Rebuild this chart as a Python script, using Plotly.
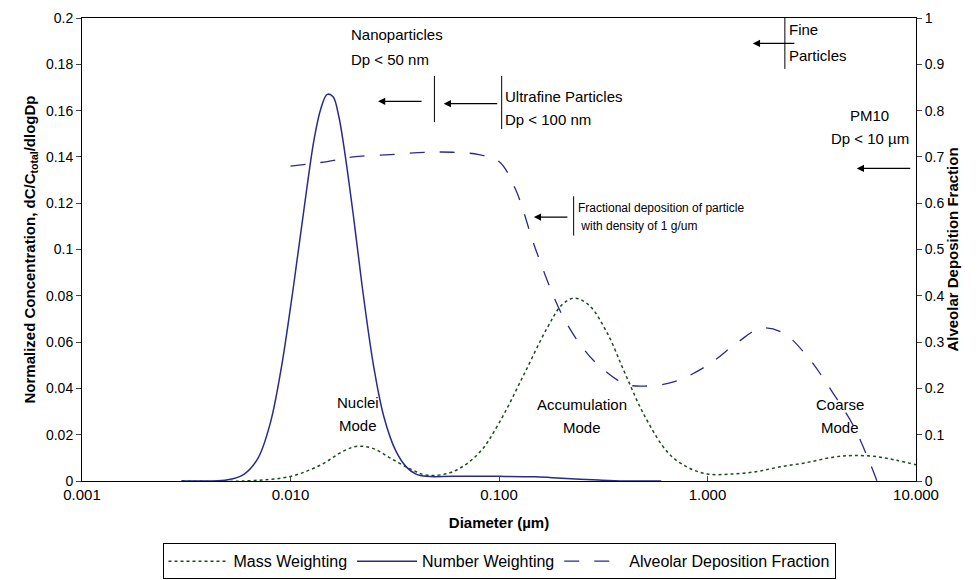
import plotly.graph_objects as go
import numpy as np

num_x = [0.003,0.004,0.005,0.006,0.007,0.008,0.009,0.010,0.011,0.012,0.013,0.014,0.015,0.016,0.017,0.018,0.020,0.022,0.025,0.028,0.032,0.036,0.040,0.045,0.06,0.1,0.15,0.2,0.3,0.4,0.6]
num_y = [0,0,0.0005,0.003,0.01,0.025,0.048,0.075,0.102,0.127,0.148,0.161,0.167,0.166,0.158,0.145,0.115,0.085,0.05,0.028,0.013,0.006,0.003,0.002,0.002,0.002,0.0018,0.0012,0.0004,0,0]
mass_x = [0.003,0.006,0.01,0.014,0.018,0.021,0.025,0.03,0.038,0.045,0.06,0.08,0.1,0.13,0.17,0.2,0.23,0.27,0.33,0.4,0.5,0.65,0.8,1.0,1.3,1.7,2.2,3,4,5,6.5,8,10]
mass_y = [0,0,0.002,0.007,0.013,0.015,0.014,0.01,0.005,0.0025,0.004,0.012,0.025,0.045,0.066,0.076,0.079,0.076,0.064,0.047,0.028,0.012,0.006,0.003,0.003,0.004,0.006,0.008,0.0103,0.011,0.0105,0.009,0.007]
dep_x = [0.01,0.015,0.02,0.03,0.045,0.06,0.08,0.1,0.12,0.15,0.2,0.25,0.3,0.4,0.5,0.7,1.0,1.4,1.8,2.3,3,4,5,6,6.5]
dep_y = [0.68,0.69,0.70,0.705,0.71,0.71,0.705,0.69,0.63,0.5,0.36,0.29,0.25,0.21,0.205,0.215,0.25,0.3,0.33,0.32,0.27,0.19,0.12,0.04,0]

fig = go.Figure()
fig.add_trace(go.Scatter(x=mass_x, y=mass_y, mode='lines', name='Mass Weighting',
    line=dict(color='#1a4d1a', dash='dot', width=1.5, shape='spline')))
fig.add_trace(go.Scatter(x=num_x, y=num_y, mode='lines', name='Number Weighting',
    line=dict(color='#2a2a8c', width=1.5, shape='spline')))
fig.add_trace(go.Scatter(x=dep_x, y=dep_y, mode='lines', name='Alveolar Deposition Fraction', yaxis='y2',
    line=dict(color='#2a2a8c', dash='longdash', width=1.3, shape='spline')))

F = dict(family='Liberation Sans, Arial', size=15, color='black')
ann = []
def txt(x, y, t, xa='left', size=15):
    ann.append(dict(x=np.log10(x), y=y, text=t, showarrow=False, xanchor=xa, yanchor='middle',
                    font=dict(family=F['family'], size=size, color='black'), align='left'))
def arrow(x, y, dx):
    ann.append(dict(x=np.log10(x), y=y, ax=dx, ay=0, showarrow=True, arrowhead=2, arrowsize=1.2,
                    arrowwidth=1.2, arrowcolor='black', text=''))
txt(0.019, 0.193, 'Nanoparticles')
txt(0.019, 0.182, 'Dp < 50 nm')
txt(0.104, 0.166, 'Ultrafine Particles')
txt(0.104, 0.156, 'Dp < 100 nm')
txt(2.4, 0.195, 'Fine')
txt(2.4, 0.184, 'Particles')
txt(6.0, 0.158, 'PM10', xa='center')
txt(6.0, 0.148, 'Dp < 10 µm', xa='center')
txt(0.235, 0.118, 'Fractional deposition of particle', size=12)
txt(0.235, 0.110, ' with density of 1 g/um', size=12)
txt(0.021, 0.034, 'Nuclei', xa='center')
txt(0.021, 0.024, 'Mode', xa='center')
txt(0.25, 0.033, 'Accumulation', xa='center')
txt(0.25, 0.023, 'Mode', xa='center')
txt(4.3, 0.033, 'Coarse', xa='center')
txt(4.3, 0.023, 'Mode', xa='center')
arrow(0.0263, 0.164, 45)
arrow(0.0543, 0.163, 55)
arrow(1.65, 0.189, 43)
arrow(5.2, 0.135, 55)
arrow(0.147, 0.114, 35)
fig.update_layout(annotations=ann)

shapes = []
for x, y0, y1 in [(0.049, 0.155, 0.175), (0.103, 0.152, 0.175), (2.35, 0.178, 0.2), (0.228, 0.106, 0.123)]:
    shapes.append(dict(type='line', x0=x, x1=x, y0=y0, y1=y1, xref='x', yref='y', line=dict(color='black', width=1)))
fig.update_layout(shapes=shapes)

fig.update_layout(
    width=979, height=580, paper_bgcolor='white', plot_bgcolor='white',
    margin=dict(l=74, r=71, t=10, b=107, autoexpand=False),
    font=F,
    xaxis=dict(type='log', range=[-3, 1], tickvals=[0.001, 0.01, 0.1, 1, 10],
               ticktext=['0.001', '0.010', '0.100', '1.000', '10.000'], showline=True, linecolor='black',
               mirror=True, ticks='inside', ticklen=5, showgrid=False, zeroline=False, automargin=False,
               title=dict(text='<b>Diameter (µm)</b>', font=dict(size=15)), tickfont=dict(size=15)),
    yaxis=dict(range=[0, 0.2], dtick=0.02, tickformat='.2~f', showline=True, linecolor='black', ticks='outside',
               showgrid=False, zeroline=False, tickfont=dict(size=14), automargin=False,
               title=dict(text='<b>Normalized Concentration, dC/C<sub>total</sub>/dlogDp</b>', font=dict(size=15), standoff=6)),
    yaxis2=dict(range=[0, 1], dtick=0.1, overlaying='y', side='right', showline=True, linecolor='black',
                ticks='outside', showgrid=False, zeroline=False, tickfont=dict(size=14), tickformat='~g', automargin=False,
                title=dict(text='<b>Alveolar Deposition Fraction</b>', font=dict(size=15), standoff=4)),
    legend=dict(orientation='h', x=0.5, xanchor='center', yref='container', y=0.015, yanchor='bottom', bordercolor='black',
                borderwidth=1, font=dict(size=16), itemwidth=60),
    showlegend=True,
)
fig.write_html('out.html')
